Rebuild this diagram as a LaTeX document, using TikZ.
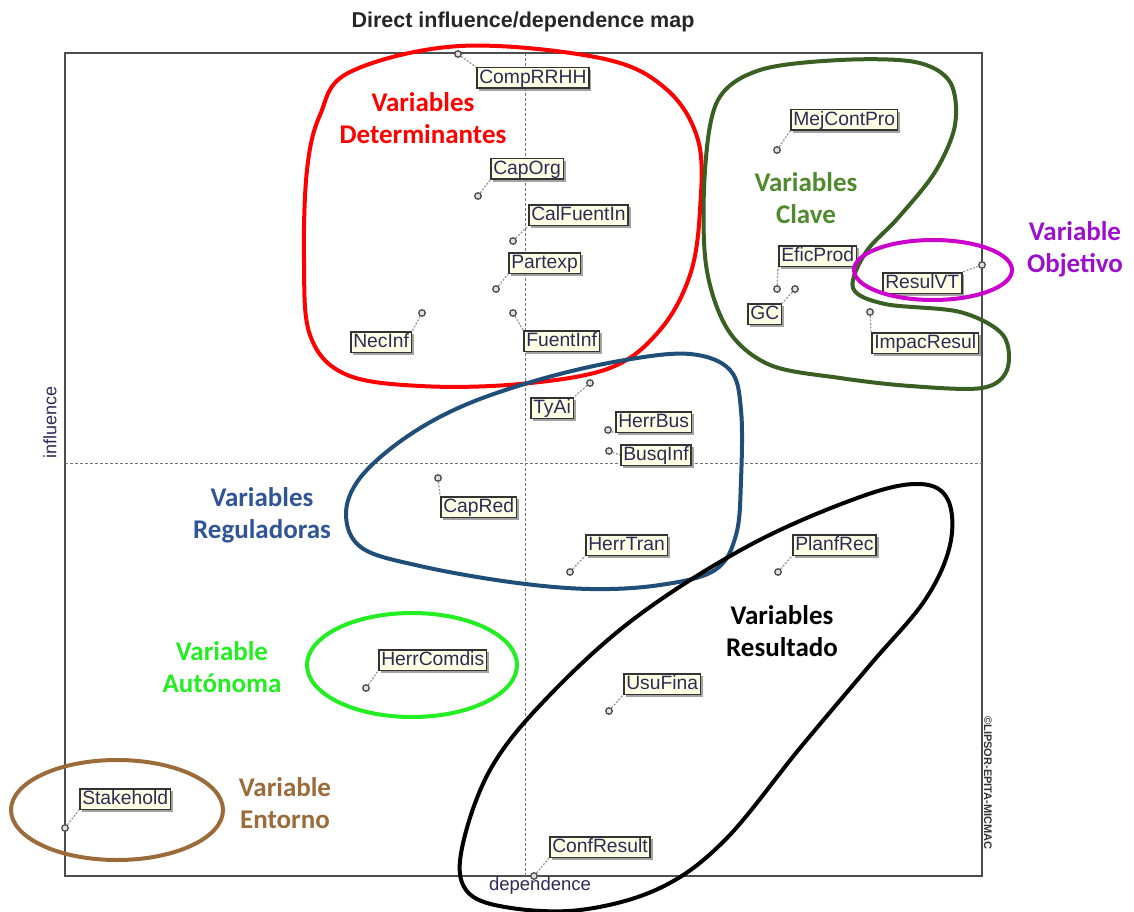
\documentclass[tikz,border=0pt]{standalone}
\usepackage{fontspec}
\usetikzlibrary{shadows}
\newfontfamily\boxfont{Liberation Sans}
\newfontfamily\labfont{Carlito}
\definecolor{cream}{HTML}{FFFFE6}
\definecolor{vtext}{HTML}{2B2B58}
\definecolor{cred}{HTML}{FF0000}
\definecolor{cgreen}{HTML}{3A5F22}
\definecolor{cgreentxt}{HTML}{4F8A2E}
\definecolor{cmag}{HTML}{CC00CC}
\definecolor{cmagtxt}{HTML}{9B10CC}
\definecolor{cblue}{HTML}{1F4E79}
\definecolor{cbluetxt}{HTML}{2F5597}
\definecolor{clime}{HTML}{22EE22}
\definecolor{cbrown}{HTML}{9C6B3A}
\begin{document}
\begin{tikzpicture}[x={(1pt,0)},y={(0,-1pt)},
  vbox/.style={draw=black!80, line width=1.5pt, fill=cream, text=vtext,
    font=\boxfont\fontsize{19.3}{19.3}\selectfont, inner xsep=2.5pt, inner ysep=2pt,
    text height=13.5pt, text depth=3pt, anchor=west,
    drop shadow={shadow xshift=2.5pt, shadow yshift=-2.5pt, fill=black!45, opacity=0.8}},
  mk/.style={circle, minimum size=6.5pt, inner sep=0pt, draw=black!70, fill=black!12, line width=1.3pt},
  conn/.style={draw=black!40, line width=1.3pt, dash pattern=on 2pt off 1.5pt},
  grp/.style={line width=4pt, line join=round},
  lab/.style={font=\labfont\bfseries\fontsize{27}{32}\selectfont, align=center}]
\useasboundingbox (0,0) rectangle (1134,912);
% frame and axes
\draw[line width=1.5pt, black!70] (65,53) rectangle (982,876);
\draw[black!55, line width=1pt, dash pattern=on 3pt off 2pt] (525,53) -- (525,876);
\draw[black!55, line width=1pt, dash pattern=on 3pt off 2pt] (65,463) -- (982,463);
% titles
\node[font=\boxfont\bfseries\fontsize{21.5}{21.5}\selectfont, text=black!85] (title) at (523,22) {Direct influence/dependence map};
\node[font=\boxfont\fontsize{18}{18}\selectfont, text=vtext, rotate=90] (yl) at (50,422) {influence};
\node[font=\boxfont\fontsize{18.5}{18.5}\selectfont, text=vtext] (xl) at (540,886) {dependence};
\node[font=\boxfont\bfseries\fontsize{11}{11}\selectfont, text=black!80, rotate=-90] (copy) at (988,783) {©LIPSOR-EPITA-MICMAC};
% markers
\node[mk] (m1) at (458,54) {};
\node[mk] (m2) at (478,196) {};
\node[mk] (m3) at (513,241) {};
\node[mk] (m4) at (496,289) {};
\node[mk] (m5) at (422,313) {};
\node[mk] (m6) at (513,313) {};
\node[mk] (m7) at (777,150) {};
\node[mk] (m8) at (777,289) {};
\node[mk] (m9) at (795,289) {};
\node[mk] (m10) at (982,265) {};
\node[mk] (m11) at (870,312) {};
\node[mk] (m12) at (590,383) {};
\node[mk] (m13) at (608,430) {};
\node[mk] (m14) at (609,451) {};
\node[mk] (m15) at (438,478) {};
\node[mk] (m16) at (570,572) {};
\node[mk] (m17) at (778,572) {};
\node[mk] (m18) at (366,688) {};
\node[mk] (m19) at (609,711) {};
\node[mk] (m20) at (65,828) {};
\node[mk] (m21) at (534,876) {};
% boxes
\node[vbox] (b1) at (476,78) {CompRRHH};
\node[vbox] (b2) at (490,169) {CapOrg};
\node[vbox] (b3) at (528,215) {CalFuentIn};
\node[vbox] (b4) at (508,263) {Partexp};
\node[vbox] (b5) at (350,342) {NecInf};
\node[vbox] (b6) at (523,341) {FuentInf};
\node[vbox] (b7) at (790,120) {MejContPro};
\node[vbox] (b8) at (778,256) {EficProd};
\node[vbox] (b9) at (747,314) {GC};
\node[vbox] (b10) at (882,283) {ResulVT};
\node[vbox] (b11) at (871,343) {ImpacResul};
\node[vbox] (b12) at (530,408) {TyAi};
\node[vbox] (b13) at (615,422) {HerrBus};
\node[vbox] (b14) at (620,455) {BusqInf};
\node[vbox] (b15) at (440,507) {CapRed};
\node[vbox] (b16) at (585,545) {HerrTran};
\node[vbox] (b17) at (792,545) {PlanfRec};
\node[vbox] (b18) at (378,660) {HerrComdis};
\node[vbox] (b19) at (623,684) {UsuFina};
\node[vbox] (b20) at (79,799) {Stakehold};
\node[vbox] (b21) at (549,847) {ConfResult};
% connectors
\draw[conn] (m1) -- (b1.north west);
\draw[conn] (m2) -- (b2.south west);
\draw[conn] (m3) -- (b3.south west);
\draw[conn] (m4) -- (b4.south west);
\draw[conn] (m5) -- (b5.north east);
\draw[conn] (m6) -- (b6.north west);
\draw[conn] (m7) -- (b7.south west);
\draw[conn] (m8) -- (b8.south west);
\draw[conn] (m9) -- (b9.north east);
\draw[conn] (m10) -- (b10.north east);
\draw[conn] (m11) -- (b11.north west);
\draw[conn] (m12) -- (b12.north east);
\draw[conn] (m13) -- (b13.south west);
\draw[conn] (m14) -- (b14.west);
\draw[conn] (m15) -- (b15.north west);
\draw[conn] (m16) -- (b16.south west);
\draw[conn] (m17) -- (b17.south west);
\draw[conn] (m18) -- (b18.south west);
\draw[conn] (m19) -- (b19.south west);
\draw[conn] (m20) -- (b20.south west);
\draw[conn] (m21) -- (b21.south west);
% groups
\draw[grp, cred] plot[smooth cycle, tension=0.6] coordinates {(350,72) (460,46) (600,58) (665,88) (698,140) (700,210) (690,275) (660,330) (610,368) (520,384) (420,386) (345,374) (310,335) (304,260) (307,170) (320,115)};
\draw[grp, cgreen] plot[smooth cycle, tension=0.55] coordinates {(718,100) (760,70) (840,60) (915,62) (950,82) (955,125) (935,172) (898,218) (866,252) (853,288) (885,304) (960,312) (1003,335) (1007,370) (982,388) (910,386) (840,378) (770,365) (728,330) (706,265) (705,170)};
\draw[grp, cmag] (933,270) ellipse[x radius=79, y radius=30];
\draw[grp, cblue] plot[smooth cycle, tension=0.6] coordinates {(690,354) (730,370) (741,410) (741,480) (736,535) (715,570) (660,585) (590,589) (510,582) (420,566) (362,548) (346,515) (360,478) (405,438) (465,405) (545,378) (625,360)};
\draw[grp, clime] (412,665) ellipse[x radius=105, y radius=52];
\draw[grp, black] plot[smooth cycle, tension=0.6] coordinates {(920,484) (948,500) (950,545) (925,600) (870,665) (800,748) (725,840) (660,888) (580,910) (505,907) (466,890) (462,848) (490,770) (545,700) (635,618) (750,545) (860,497)};
\draw[grp, cbrown] (117,810) ellipse[x radius=106, y radius=50];
% labels
\node[lab, text=cred] (l1) at (423,118) {Variables\\Determinantes};
\node[lab, text=cgreentxt] (l2) at (806,198) {Variables\\Clave};
\node[lab, text=cmagtxt] (l3) at (1075,249) {Variable\\Objetivo};
\node[lab, text=cbluetxt] (l4) at (262,515) {Variables\\Reguladoras};
\node[lab, text=clime] (l5) at (222,667) {Variable\\Autónoma};
\node[lab, text=cbrown] (l6) at (285,803) {Variable\\Entorno};
\node[lab, text=black] (l7) at (782,631) {Variables\\Resultado};
\end{tikzpicture}
\end{document}
